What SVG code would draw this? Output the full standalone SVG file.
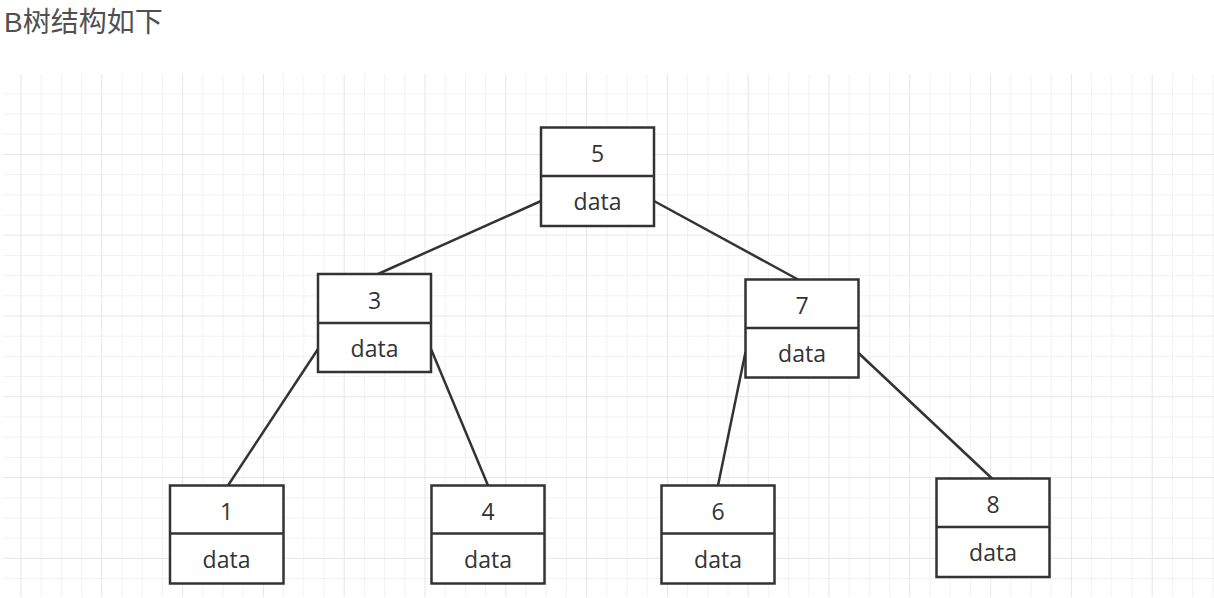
<svg xmlns="http://www.w3.org/2000/svg" width="1214" height="598" viewBox="0 0 1214 598">
<style>
.minor{stroke:#f2f2f2;stroke-width:1;fill:none}
.major{stroke:#e6e6e6;stroke-width:1;fill:none}
.box{fill:#ffffff;stroke:#333333;stroke-width:2.5}
.div{stroke:#333333;stroke-width:2.5}
.lbl{font-family:"Open Sans","Noto Sans",sans-serif;font-size:23px;fill:#333333;text-anchor:middle}
.edge{stroke:#333333;stroke-width:2.5;fill:none}
.title{font-family:"Liberation Sans","Noto Sans CJK SC",sans-serif;font-size:28px;fill:#505050}
</style>
<rect width="1214" height="598" fill="#ffffff"/>
<text class="title" x="4" y="32">B树结构如下</text>
<g id="grid">
<path class="minor" d="M41.2 74V597M61.4 74V597M81.6 74V597M122 74V597M142.2 74V597M162.4 74V597M202.8 74V597M223 74V597M243.2 74V597M283.6 74V597M303.8 74V597M324 74V597M364.4 74V597M384.6 74V597M404.8 74V597M445.2 74V597M465.4 74V597M485.6 74V597M526 74V597M546.2 74V597M566.4 74V597M606.8 74V597M627 74V597M647.2 74V597M687.6 74V597M707.8 74V597M728 74V597M768.4 74V597M788.6 74V597M808.8 74V597M849.2 74V597M869.4 74V597M889.6 74V597M930 74V597M950.2 74V597M970.4 74V597M1010.8 74V597M1031 74V597M1051.2 74V597M1091.6 74V597M1111.8 74V597M1132 74V597M1172.4 74V597M1192.6 74V597M1212.8 74V597"/>
<path class="minor" d="M3 93.8H1214M3 114H1214M3 134.2H1214M3 174.6H1214M3 194.8H1214M3 215H1214M3 255.4H1214M3 275.6H1214M3 295.8H1214M3 336.2H1214M3 356.4H1214M3 376.6H1214M3 417H1214M3 437.2H1214M3 457.4H1214M3 497.8H1214M3 518H1214M3 538.2H1214M3 578.6H1214"/>
<path class="major" d="M21 74V597M101.8 74V597M182.6 74V597M263.4 74V597M344.2 74V597M425 74V597M505.8 74V597M586.6 74V597M667.4 74V597M748.2 74V597M829 74V597M909.8 74V597M990.6 74V597M1071.4 74V597M1152.2 74V597"/>
<path class="major" d="M3 154.4H1214M3 235.2H1214M3 316H1214M3 396.8H1214M3 477.6H1214M3 558.4H1214"/>
</g>
<g id="connectors">
<line class="edge" x1="541" y1="201" x2="378" y2="274"/>
<line class="edge" x1="654" y1="201" x2="798" y2="279.5"/>
<line class="edge" x1="318" y1="349" x2="228" y2="485.5"/>
<line class="edge" x1="431" y1="349" x2="488" y2="485.5"/>
<line class="edge" x1="745.5" y1="352" x2="718" y2="485.5"/>
<line class="edge" x1="858.5" y1="353" x2="992" y2="478.5"/>
</g>
<g id="node5">
<rect class="box" x="541" y="127.5" width="113" height="98.5"/>
<line class="div" x1="541" y1="176" x2="654" y2="176"/>
<text class="lbl" x="597.5" y="162">5</text>
<text class="lbl" x="597.5" y="210">data</text>
</g>
<g id="node3">
<rect class="box" x="318" y="274" width="113" height="98"/>
<line class="div" x1="318" y1="323" x2="431" y2="323"/>
<text class="lbl" x="374.5" y="308.5">3</text>
<text class="lbl" x="374.5" y="357">data</text>
</g>
<g id="node7">
<rect class="box" x="745.5" y="279.5" width="113" height="98"/>
<line class="div" x1="745.5" y1="328" x2="858.5" y2="328"/>
<text class="lbl" x="802" y="314">7</text>
<text class="lbl" x="802" y="362">data</text>
</g>
<g id="node1">
<rect class="box" x="170" y="485.5" width="113.5" height="98"/>
<line class="div" x1="170" y1="533.5" x2="283.5" y2="533.5"/>
<text class="lbl" x="226.5" y="520">1</text>
<text class="lbl" x="226.5" y="567.5">data</text>
</g>
<g id="node4">
<rect class="box" x="431.5" y="485.5" width="113" height="98"/>
<line class="div" x1="431.5" y1="533.5" x2="544.5" y2="533.5"/>
<text class="lbl" x="488" y="520">4</text>
<text class="lbl" x="488" y="567.5">data</text>
</g>
<g id="node6">
<rect class="box" x="661.5" y="485.5" width="113" height="98"/>
<line class="div" x1="661.5" y1="533.5" x2="774.5" y2="533.5"/>
<text class="lbl" x="718" y="520">6</text>
<text class="lbl" x="718" y="567.5">data</text>
</g>
<g id="node8">
<rect class="box" x="936.5" y="478.5" width="113" height="98.5"/>
<line class="div" x1="936.5" y1="527" x2="1049.5" y2="527"/>
<text class="lbl" x="993" y="513">8</text>
<text class="lbl" x="993" y="561">data</text>
</g>
</svg>
